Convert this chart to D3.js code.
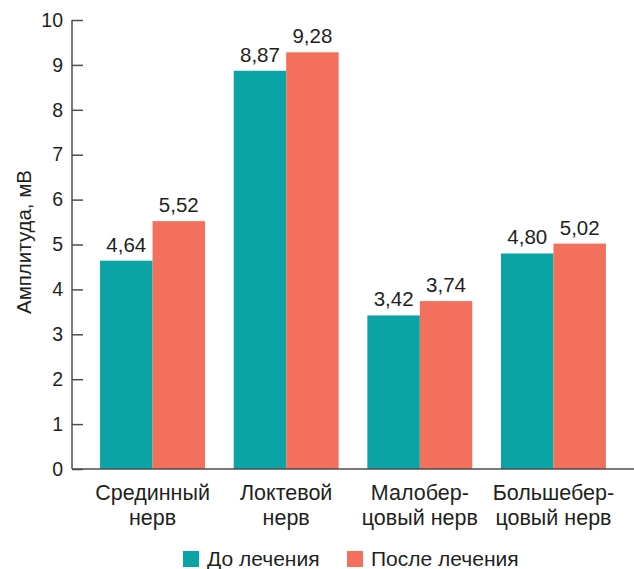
<!DOCTYPE html>
<html>
<head>
<meta charset="utf-8">
<script src="https://cdn.jsdelivr.net/npm/d3@7"></script>
<style>
  html, body { margin: 0; padding: 0; background: #fff; }
  svg { display: block; font-family: "Liberation Sans", Arial, sans-serif; }
</style>
</head>
<body>
<svg id="chart" width="634" height="569"></svg>
<script>
// Nerve categories (each label split into its two printed lines)
const categories = [
  ["Срединный", "нерв"],
  ["Локтевой", "нерв"],
  ["Малобер-", "цовый нерв"],
  ["Большебер-", "цовый нерв"]
];
const seriesNames = ["До лечения", "После лечения"];
const beforeValues = [4.64, 8.87, 3.42, 4.80];
const afterValues = [5.52, 9.28, 3.74, 5.02];
const yTicks = [0, 1, 2, 3, 4, 5, 6, 7, 8, 9, 10];
const yTitle = "Амплитуда, мВ";

const colors = ["#0aa3a6", "#f2705c"];
const textColor = "#231f20";
const axisColor = "#4d4d4d";

const svg = d3.select("#chart");
const plotLeft = 72, plotRight = 634, plotTop = 20, plotBottom = 469;

const x0 = d3.scaleBand()
  .domain(d3.range(categories.length))
  .range([plotLeft, plotRight])
  .paddingInner(0.215)
  .paddingOuter(0.21);

const x1 = d3.scaleBand()
  .domain([0, 1])
  .range([0, x0.bandwidth()]);

const y = d3.scaleLinear().domain([0, 10]).range([plotBottom, plotTop]);

const fmt = v => v.toFixed(2).replace(".", ",");

// Bars
const groups = svg.append("g").selectAll("g")
  .data(categories.map((c, i) => [beforeValues[i], afterValues[i]]))
  .join("g")
  .attr("transform", (d, i) => `translate(${x0(i)},0)`);

groups.selectAll("rect")
  .data(d => d)
  .join("rect")
  .attr("x", (d, j) => x1(j))
  .attr("width", x1.bandwidth())
  .attr("y", d => y(d))
  .attr("height", d => y(0) - y(d))
  .attr("fill", (d, j) => colors[j]);

// Value labels
groups.selectAll("text")
  .data(d => d)
  .join("text")
  .attr("x", (d, j) => x1(j) + x1.bandwidth() / 2)
  .attr("y", d => y(d) - 9)
  .attr("text-anchor", "middle")
  .attr("font-size", 20.5)
  .attr("fill", textColor)
  .text(d => fmt(d));

// Y axis with inward ticks
const yAxis = svg.append("g")
  .attr("transform", `translate(${plotLeft},0)`)
  .call(d3.axisRight(y).tickValues(yTicks).tickSize(11).tickFormat(d => d));
yAxis.select(".domain").remove();
yAxis.selectAll(".tick line").attr("stroke", axisColor).attr("stroke-width", 1.5);
yAxis.selectAll(".tick text")
  .attr("x", -9)
  .attr("text-anchor", "end")
  .attr("font-size", 19.5)
  .attr("font-family", "Liberation Sans, Arial, sans-serif")
  .attr("fill", textColor);

svg.append("line")
  .attr("x1", plotLeft).attr("x2", plotLeft)
  .attr("y1", y(10)).attr("y2", plotBottom)
  .attr("stroke", axisColor).attr("stroke-width", 1.5);

// X axis baseline
svg.append("line")
  .attr("x1", plotLeft).attr("x2", plotRight)
  .attr("y1", plotBottom).attr("y2", plotBottom)
  .attr("stroke", axisColor).attr("stroke-width", 1.5);

// Category labels
const catLabels = svg.append("g").selectAll("text")
  .data(categories)
  .join("text")
  .attr("text-anchor", "middle")
  .attr("font-size", 21.5)
  .attr("fill", textColor);
catLabels.each(function(lines, i) {
  const t = d3.select(this);
  lines.forEach((line, k) => {
    t.append("tspan")
      .attr("x", x0(i) + x0.bandwidth() / 2)
      .attr("y", 500 + k * 25)
      .text(line);
  });
});

// Y axis title
svg.append("text")
  .attr("transform", `translate(31,242) rotate(-90)`)
  .attr("text-anchor", "middle")
  .attr("font-size", 20.5)
  .attr("fill", textColor)
  .text(yTitle);

// Legend
const legendItems = [
  { name: seriesNames[0], color: colors[0], x: 183 },
  { name: seriesNames[1], color: colors[1], x: 347 }
];
const legend = svg.append("g").selectAll("g")
  .data(legendItems)
  .join("g")
  .attr("transform", d => `translate(${d.x},551)`);
legend.append("rect")
  .attr("width", 16).attr("height", 16)
  .attr("fill", d => d.color);
legend.append("text")
  .attr("x", 24).attr("y", 15)
  .attr("font-size", 21)
  .attr("fill", textColor)
  .text(d => d.name);
</script>
</body>
</html>
